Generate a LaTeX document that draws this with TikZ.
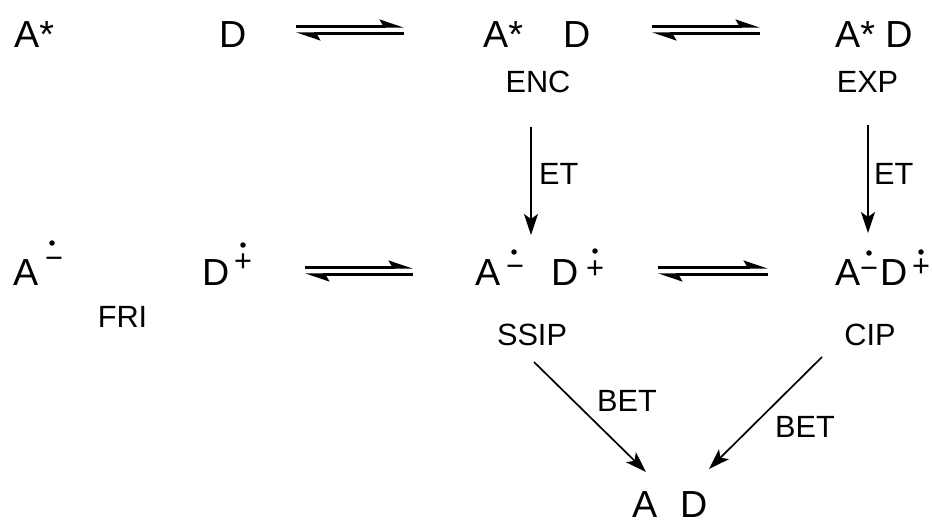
\documentclass[tikz,border=0pt]{standalone}
\usepackage{fontspec}
\setmainfont{Liberation Sans}
\usetikzlibrary{arrows.meta}
\begin{document}
\begin{tikzpicture}[x=1pt,y=-1pt,
  big/.style={font=\fontsize{37.7}{40}\selectfont, inner sep=0pt, anchor=base west},
  lbl/.style={font=\fontsize{30.7}{33}\selectfont, inner sep=0pt, anchor=base},
  lblw/.style={font=\fontsize{30.7}{33}\selectfont, inner sep=0pt, anchor=base west},
  chg/.style={font=\fontsize{30.7}{33}\selectfont, inner sep=0pt, anchor=base},
  rad/.style={circle, fill=black, inner sep=0pt, minimum size=5.5pt},
  eqline/.style={line width=2.3pt, -{Stealth[harpoon, length=21pt, width=14pt, inset=4pt]}},
  rxn/.style={line width=1.7pt, -{Stealth[length=21pt, width=14pt, inset=5pt]}}
]
\useasboundingbox (0,0) rectangle (932,524);
% Row 1
\node[big] (a1) at (14,48) {A*};
\node[big] (d1) at (219,48) {D};
\node[big] (a2) at (483,48) {A*};
\node[big] (d2) at (563,48) {D};
\node[lbl] (enc) at (538,93) {ENC};
\node[big] (ad3) at (835,48) {A* D};
\node[lbl] (exp) at (867.5,93) {EXP};
% Row 2
\node[big] (fa) at (13,285) {A};
\node[chg] (fam) at (54,268) {−};
\node[rad] (fad) at (52,243) {};
\node[big] (fd) at (202,285) {D};
\node[chg] (fdp) at (243,271) {+};
\node[rad] (fdd) at (243,245) {};
\node[lbl] (fri) at (122.5,327) {FRI};
\node[big] (sa) at (475,285) {A};
\node[chg] (sam) at (515,276) {−};
\node[rad] (sad) at (514,252) {};
\node[big] (sd) at (551,285) {D};
\node[chg] (sdp) at (595,278) {+};
\node[rad] (sdd) at (595,251) {};
\node[lbl] (ssip) at (532,345) {SSIP};
\node[big] (ca) at (835,285) {A};
\node[chg] (cam) at (869,278) {−};
\node[rad] (cad) at (869,253) {};
\node[big] (cd) at (880,285) {D};
\node[chg] (cdp) at (921,276) {+};
\node[rad] (cdd) at (921,252) {};
\node[lbl] (cip) at (870,345) {CIP};
% Bottom
\node[big] (ba) at (632,517) {A};
\node[big] (bd) at (680,517) {D};
% labels
\node[lblw] (et1) at (539,185) {ET};
\node[lblw] (et2) at (874,185) {ET};
\node[lblw] (bet1) at (597,411) {BET};
\node[lblw] (bet2) at (775,437) {BET};
% arrow coordinates
\coordinate (e1a) at (296,26.5); \coordinate (e1b) at (404,26.5);
\coordinate (e1c) at (404,33.5); \coordinate (e1d) at (296,33.5);
\coordinate (e2a) at (652,26.5); \coordinate (e2b) at (760,26.5);
\coordinate (e2c) at (760,33.5); \coordinate (e2d) at (652,33.5);
\coordinate (e3a) at (305,267.5); \coordinate (e3b) at (413,267.5);
\coordinate (e3c) at (413,274.5); \coordinate (e3d) at (305,274.5);
\coordinate (e4a) at (658,267.5); \coordinate (e4b) at (768,267.5);
\coordinate (e4c) at (768,274.5); \coordinate (e4d) at (658,274.5);
\draw[eqline] (e1a) -- (e1b); \draw[eqline] (e1c) -- (e1d);
\draw[eqline] (e2a) -- (e2b); \draw[eqline] (e2c) -- (e2d);
\draw[eqline] (e3a) -- (e3b); \draw[eqline] (e3c) -- (e3d);
\draw[eqline] (e4a) -- (e4b); \draw[eqline] (e4c) -- (e4d);
\coordinate (v1a) at (531,127); \coordinate (v1b) at (531,235);
\coordinate (v2a) at (868,125); \coordinate (v2b) at (868,233);
\coordinate (b1a) at (534,362); \coordinate (b1b) at (646,472);
\coordinate (b2a) at (822,357); \coordinate (b2b) at (709,469);
\draw[rxn] (v1a) -- (v1b);
\draw[rxn] (v2a) -- (v2b);
\draw[rxn] (b1a) -- (b1b);
\draw[rxn] (b2a) -- (b2b);
\end{tikzpicture}
\end{document}
